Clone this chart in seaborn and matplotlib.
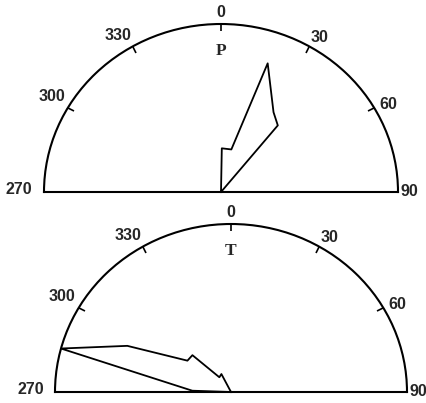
import numpy as np
import pandas as pd
import matplotlib
matplotlib.use('Agg')
import matplotlib.pyplot as plt
import seaborn as sns

# rose polygon data, compass degrees and relative length (0..1)
p_angle = [1, 13, 19, 32, 39]
p_value = [0.26, 0.26, 0.81, 0.56, 0.51]

t_angle = [272, 285, 295, 307, 315, 323, 333]
t_value = [0.22, 1.0, 0.65, 0.31, 0.31, 0.11, 0.12]

# scale labels round the half circle
tick_angle = [270, 300, 330, 0, 30, 60, 90]
tick_text = ['270', '300', '330', '0', '30', '60', '90']

W, H = 427, 403


def to_rad(deg):
    deg = np.asarray(deg, dtype=float)
    return np.deg2rad((deg + 180) % 360 - 180)


def half_axes(fig, cx, cy, rx, ry):
    # polar wedge sits in the middle half of the axes box, centre at y=0.25
    h = 2 * ry / H
    yc = (H - cy) / H
    rect = [(cx - rx) / W, yc - 0.25 * h, 2 * rx / W, h]
    ax = fig.add_axes(rect, projection='polar')
    ax.set_theta_zero_location('N')
    ax.set_theta_direction(-1)
    ax.set_thetamin(-90)
    ax.set_thetamax(90)
    ax.set_aspect('auto')
    ax.set_facecolor('none')
    ax.set_rlim(0, 1)
    ax.set_rticks([])
    ax.grid(False)
    for s in ['polar', 'start', 'end']:
        ax.spines[s].set_linewidth(1.5)
        ax.spines[s].set_color('black')
    ax.spines['inner'].set_visible(False)
    return ax


def draw_rose(ax, angles, values, name):
    th = [angles[0]] + list(angles) + [angles[-1]]
    rr = [0] + list(values) + [0]
    df = pd.DataFrame({'theta': to_rad(th), 'r': rr})
    sns.lineplot(data=df, x='theta', y='r', sort=False, estimator=None,
                 color='black', lw=1.3, ax=ax)
    ax.set_xlabel('')
    ax.set_ylabel('')
    ax.set_rlim(0, 1)
    ax.set_xlim(-np.pi / 2, np.pi / 2)
    ax.set_xticks(to_rad([-60, -30, 0, 30, 60]))
    ax.set_xticklabels([])
    # in polar axes the "top" ticks sit on the outer arc
    ax.tick_params(axis='x', which='major', bottom=False, top=True,
                   direction='in', length=5, width=1.2, colors='black')

    # label offsets a bit off the tick direction, like the print
    offs = {270: (0.6, 1.14), 300: (0.8, 1.115), 330: (-2.0, 1.10), 0: (0, 1.07),
            30: (1.3, 1.075), 60: (1.2, 1.08), 90: (0, 1.065)}
    for a, s in zip(tick_angle, tick_text):
        da, r = offs[a]
        ax.text(to_rad(a + da), r, s, ha='center', va='center', fontsize=11.5,
                fontweight='bold', family='Liberation Sans', clip_on=False)
    ax.text(0, 0.84, name, ha='center', va='center', fontsize=12.5,
            fontweight='bold', family='Liberation Serif')


sns.set_style('white')
fig = plt.figure(figsize=(W / 100, H / 100), dpi=100)

ax1 = half_axes(fig, 221, 192, 177, 168)
draw_rose(ax1, p_angle, p_value, 'P')

ax2 = half_axes(fig, 231, 392, 176, 168)
draw_rose(ax2, t_angle, t_value, 'T')

fig.savefig('out.png', dpi=100)
